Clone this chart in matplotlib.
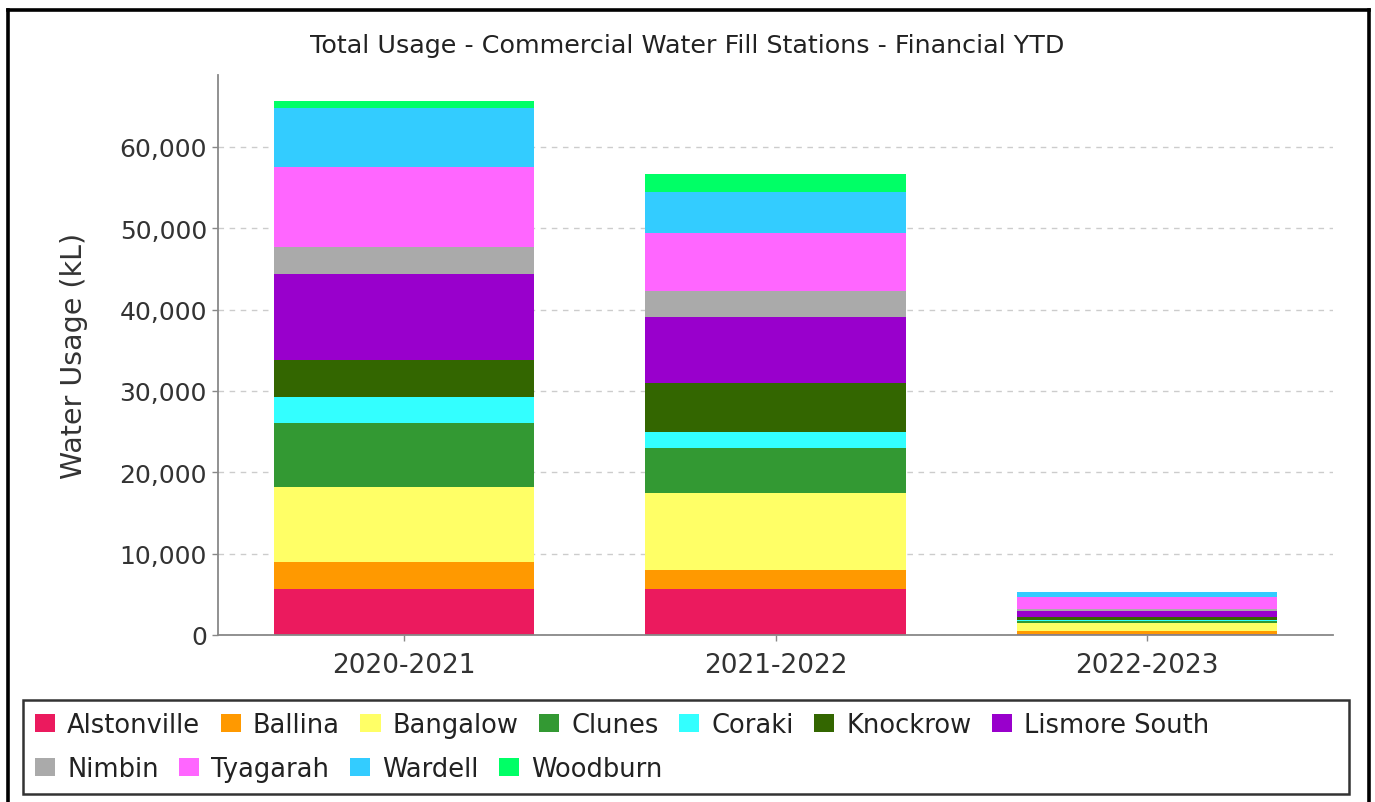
import matplotlib
matplotlib.use("Agg")
import matplotlib.pyplot as plt
from matplotlib.patches import Rectangle
from matplotlib.lines import Line2D
from matplotlib.ticker import FuncFormatter
import numpy as np

plt.rcParams['font.family'] = ['DejaVu Sans']

# ---- data ----
years = ["2020-2021", "2021-2022", "2022-2023"]
stations = ["Alstonville", "Ballina", "Bangalow", "Clunes", "Coraki", "Knockrow",
            "Lismore South", "Nimbin", "Tyagarah", "Wardell", "Woodburn"]
alstonville   = [5650, 5660, 120]
ballina       = [3330, 2370, 410]
bangalow      = [9220, 9430, 950]
clunes        = [7830, 5530, 250]
coraki        = [3200, 1930, 110]
knockrow      = [4580, 6080, 340]
lismore_south = [10580, 8100, 830]
nimbin        = [3320, 3200, 160]
tyagarah      = [9800, 7130, 1470]
wardell       = [7250, 5000, 610]
woodburn      = [860, 2250, 40]
series = [alstonville, ballina, bangalow, clunes, coraki, knockrow,
          lismore_south, nimbin, tyagarah, wardell, woodburn]
colors = ["#EB1A5E", "#FF9900", "#FFFF66", "#339933", "#33FFFF", "#336600",
          "#9900CC", "#AAAAAA", "#FF66FF", "#33CCFF", "#00FF66"]
yticks = [0, 10000, 20000, 30000, 40000, 50000, 60000]

W, H = 1375, 803
fig = plt.figure(figsize=(W / 100, H / 100), dpi=100)
fig.patch.set_facecolor("white")

ax = fig.add_axes([218 / W, 1 - 636 / H, 1115 / W, 560 / H])
x = np.arange(len(years))
bottom = np.zeros(len(years))
handles = []
for name, vals, c in zip(stations, series, colors):
    v = np.array(vals, dtype=float)
    b = ax.bar(x, v, 0.70, bottom=bottom, color=c, linewidth=0, label=name)
    handles.append(b)
    bottom += v

ax.set_xlim(-0.5, 2.5)
ax.set_ylim(0, 68850)
ax.set_xticks(x)
ax.set_xticklabels(years)
ax.set_yticks(yticks)
ax.yaxis.set_major_formatter(FuncFormatter(lambda v, p: f"{v:,.0f}"))
ax.set_axisbelow(True)
ax.yaxis.grid(True, linestyle=(0, (4, 4)), color="#cccccc", linewidth=1)
for s in ["top", "right"]:
    ax.spines[s].set_visible(False)
for s in ["left", "bottom"]:
    ax.spines[s].set_color("#888888")
    ax.spines[s].set_linewidth(1.3)
ax.tick_params(axis="y", length=4, width=1, color="#888888", pad=4,
               labelsize=18, labelcolor="#333333")
ax.tick_params(axis="x", length=4, width=1, color="#888888", pad=8,
               labelsize=19, labelcolor="#333333")
ax.set_ylabel("Water Usage (kL)", fontsize=20.5, color="#333333")
ax.yaxis.set_label_coords(-0.117, 0.5)

fig.text(0.5, 1 - 46 / H, "Total Usage - Commercial Water Fill Stations - Financial YTD",
         ha="center", va="center", fontsize=18.3, color="#222222")

# legend (two flowing rows)
common = dict(frameon=False, borderpad=0, borderaxespad=0, handlelength=0.78,
              handleheight=0.74, handletextpad=0.47, columnspacing=0.8,
              fontsize=18.5, loc="center left", bbox_transform=fig.transFigure,
              labelcolor="#222222")
leg1 = fig.legend(handles[:7], stations[:7], ncol=7,
                  bbox_to_anchor=(35 / W, 1 - 726 / H), **common)
leg2 = fig.legend(handles[7:], stations[7:], ncol=4,
                  bbox_to_anchor=(35 / W, 1 - 770 / H), **common)

fig.add_artist(Rectangle((23 / W, 1 - 795 / H), 1326 / W, 94 / H,
                         transform=fig.transFigure, fill=False,
                         edgecolor="#333333", linewidth=1.8))
# outer border
for xs, ys in [([7.5 / W, 7.5 / W], [0, 1 - 11 / H]),
               ([1368.5 / W, 1368.5 / W], [0, 1 - 11 / H]),
               ([7.5 / W, 1368.5 / W], [1 - 11 / H, 1 - 11 / H])]:
    fig.add_artist(Line2D(xs, ys, transform=fig.transFigure, color="black",
                          linewidth=2.6, solid_capstyle="projecting"))

fig.savefig("out.png", dpi=100, facecolor="white")
